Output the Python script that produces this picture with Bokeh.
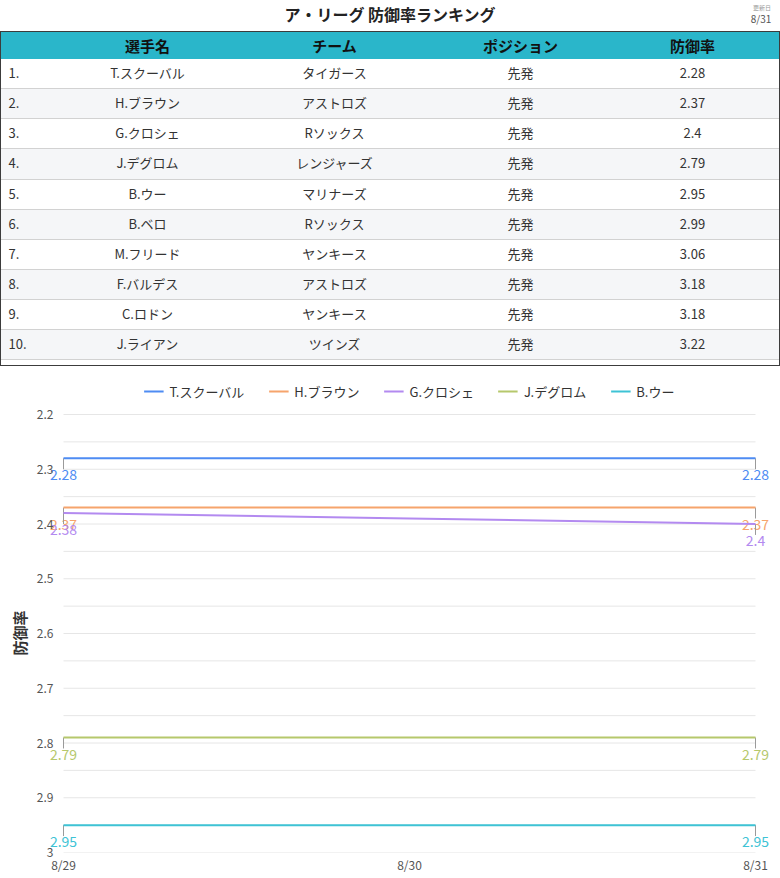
from bokeh.plotting import figure
from bokeh.models import (Range1d, FixedTicker, Legend, LegendItem, Div, Title,
                          GlobalInlineStyleSheet)
from bokeh.layouts import column
from bokeh.embed import file_html
from bokeh.resources import INLINE
from bokeh.core.properties import value

# ---------------- data ----------------
TITLE = "ア・リーグ 防御率ランキング"
UPDATED_LABEL = "更新日"
UPDATED_DATE = "8/31"

HEADERS = ["選手名", "チーム", "ポジション", "防御率"]
RANKS = ["1.", "2.", "3.", "4.", "5.", "6.", "7.", "8.", "9.", "10."]
PLAYERS = ["T.スクーバル", "H.ブラウン", "G.クロシェ", "J.デグロム", "B.ウー",
           "B.ベロ", "M.フリード", "F.バルデス", "C.ロドン", "J.ライアン"]
TEAMS = ["タイガース", "アストロズ", "Rソックス", "レンジャーズ", "マリナーズ",
         "Rソックス", "ヤンキース", "アストロズ", "ヤンキース", "ツインズ"]
POSITIONS = ["先発", "先発", "先発", "先発", "先発", "先発", "先発", "先発", "先発", "先発"]
ERAS = ["2.28", "2.37", "2.4", "2.79", "2.95", "2.99", "3.06", "3.18", "3.18", "3.22"]

DATES = ["8/29", "8/30", "8/31"]
SERIES_NAMES = ["T.スクーバル", "H.ブラウン", "G.クロシェ", "J.デグロム", "B.ウー"]
SKUBAL = [2.28, 2.28, 2.28]
BROWN = [2.37, 2.37, 2.37]
CROCHET = [2.38, 2.39, 2.40]
DEGROM = [2.79, 2.79, 2.79]
WOO = [2.95, 2.95, 2.95]
SERIES_VALUES = [SKUBAL, BROWN, CROCHET, DEGROM, WOO]

Y_AXIS_TITLE = "防御率"
Y_TICKS = [2.2, 2.3, 2.4, 2.5, 2.6, 2.7, 2.8, 2.9, 3.0]
Y_TICK_LABELS = ["2.2", "2.3", "2.4", "2.5", "2.6", "2.7", "2.8", "2.9", "3"]
Y_MINOR = [2.25, 2.35, 2.45, 2.55, 2.65, 2.75, 2.85, 2.95]

# ---------------- styles ----------------
FONT = "Noto Sans CJK JP"
COLORS = ["#4e8cf3", "#f6a46c", "#b38af0", "#b6c86c", "#3ec3d5"]
HEADER_BG = "#2ab6ca"
ALT_BG = "#f5f6f8"
SEP_COLOR = "#d2d2d2"
BORDER_COLOR = "#3c3c3c"
GRID_COLOR = "#e6e6e6"

W = 780
TOP_H = 372
CHART_H = 506

# ---------------- title + table (HTML) ----------------
T_TOP = 31
T_H = 335
HEADER_H = 27
ROW_H = 30.15
BW = 1.5
COL_X = [148, 335, 521, 693]
RANK_X = 9


def cell(cx, txt, style=""):
    return (f'<span style="position:absolute;left:{cx - BW - 100}px;width:200px;'
            f'text-align:center;{style}">{txt}</span>')


parts = []
parts.append(f'<div style="position:relative;width:{W}px;height:{TOP_H}px;'
             f'font-family:\'{FONT}\';background:white;overflow:hidden;">')
parts.append(f'<div style="position:absolute;left:0;top:2px;width:{W}px;text-align:center;'
             f'font-size:16px;font-weight:bold;color:#222;line-height:24px;">{TITLE}</div>')
parts.append(f'<div style="position:absolute;left:742px;top:4px;width:40px;text-align:center;'
             f'font-size:6px;color:#999;line-height:7px;">{UPDATED_LABEL}</div>')
parts.append(f'<div style="position:absolute;left:741px;top:12px;width:40px;text-align:center;'
             f'font-size:10px;color:#555;line-height:13px;">{UPDATED_DATE}</div>')
parts.append(f'<div style="position:absolute;left:0;top:{T_TOP}px;width:{W}px;height:{T_H}px;'
             f'box-sizing:border-box;border:{BW}px solid {BORDER_COLOR};overflow:hidden;'
             f'background:white;">')
parts.append(f'<div style="position:absolute;left:0;top:0;width:100%;height:{HEADER_H}px;'
             f'background:{HEADER_BG};line-height:{HEADER_H}px;font-size:15px;'
             f'font-weight:bold;color:#111;">')
for cx, h in zip(COL_X, HEADERS):
    parts.append(cell(cx, h))
parts.append('</div>')
for i, (rk, pl, tm, ps, er) in enumerate(zip(RANKS, PLAYERS, TEAMS, POSITIONS, ERAS)):
    bg = "white" if i % 2 == 0 else ALT_BG
    top = HEADER_H + i * ROW_H
    parts.append(f'<div style="position:absolute;left:0;top:{top:.2f}px;width:100%;'
                 f'height:{ROW_H}px;box-sizing:border-box;background:{bg};'
                 f'border-bottom:1.6px solid {SEP_COLOR};line-height:{ROW_H - 1.6:.2f}px;'
                 f'font-size:13px;color:#333;">')
    parts.append(f'<span style="position:absolute;left:{RANK_X - BW}px;">{rk}</span>')
    for cx, t in zip(COL_X, [pl, tm, ps, er]):
        parts.append(cell(cx, t))
    parts.append('</div>')
parts.append('</div></div>')

table_div = Div(text="".join(parts), width=W, height=TOP_H, margin=0)

# ---------------- chart ----------------
DATA_L, DATA_R = 63, 755
DATA_T, DATA_B = 414 - TOP_H, 852 - TOP_H
OVERHANG = 14           # frame extends past the data area so end labels are not clipped
LEGEND_SPACE = 34       # frame extends above the data area to hold the legend
FRAME_L, FRAME_R = DATA_L - OVERHANG, DATA_R + OVERHANG
FRAME_T = DATA_T - LEGEND_SPACE

xs = list(range(len(DATES)))
x_span = xs[-1] - xs[0]
x_pad = OVERHANG * x_span / (DATA_R - DATA_L)
y_per_px = (Y_TICKS[-1] - Y_TICKS[0]) / (DATA_B - DATA_T)
y_top = Y_TICKS[0] - LEGEND_SPACE * y_per_px

cf = figure(width=W, height=CHART_H,
            x_range=Range1d(xs[0] - x_pad, xs[-1] + x_pad),
            y_range=Range1d(Y_TICKS[-1], y_top), title=None,
            output_backend="svg", toolbar_location=None,
            min_border_left=FRAME_L, min_border_right=W - FRAME_R,
            min_border_top=FRAME_T, min_border_bottom=CHART_H - DATA_B)
cf.outline_line_color = None
cf.xgrid.visible = False
cf.ygrid.visible = False

grid_y = sorted(Y_TICKS + Y_MINOR)
cf.segment(x0=[xs[0]] * len(grid_y), x1=[xs[-1]] * len(grid_y), y0=grid_y, y1=grid_y,
           line_color=GRID_COLOR, line_width=1)

cf.yaxis.ticker = FixedTicker(ticks=Y_TICKS, minor_ticks=[])
cf.yaxis.major_label_overrides = {t: l for t, l in zip(Y_TICKS, Y_TICK_LABELS)}
cf.xaxis.ticker = FixedTicker(ticks=xs, minor_ticks=[])
cf.xaxis.major_label_overrides = {i: d for i, d in zip(xs, DATES)}
for ax in (cf.xaxis, cf.yaxis):
    ax.axis_line_color = None
    ax.major_tick_line_color = None
    ax.minor_tick_line_color = None
    ax.major_tick_out = 0
    ax.major_tick_in = 0
    ax.minor_tick_out = 0
    ax.minor_tick_in = 0
    ax.major_label_text_font = FONT
    ax.major_label_text_font_size = "12px"
    ax.major_label_text_color = "#555555"
cf.yaxis.major_label_standoff = 10 - OVERHANG
cf.xaxis.major_label_standoff = 3

# y axis title, centred on the data area (not on the taller frame)
y_title = Title(text=Y_AXIS_TITLE, align="left", offset=197, standoff=8,
                text_font=FONT, text_font_size="15px", text_font_style="bold",
                text_color="#333333")
cf.add_layout(y_title, "left")

DROP = 0.02
items = []
for name, vals, color in zip(SERIES_NAMES, SERIES_VALUES, COLORS):
    ends_x = [xs[0], xs[-1]]
    ends_y = [vals[0], vals[-1]]
    cf.segment(x0=ends_x, x1=ends_x, y0=ends_y, y1=[v + DROP for v in ends_y],
               line_color="#9a9a9a", line_width=1)
    r = cf.line(xs, vals, line_color=color, line_width=2)
    cf.text(x=ends_x, y=ends_y, text=[f"{v:g}" for v in ends_y], text_align="center",
            text_baseline="top", y_offset=11, text_font=value(FONT), text_font_size="14px",
            text_color=color)
    items.append(LegendItem(label=name, renderers=[r]))

legend = Legend(items=items, orientation="horizontal", location="top_center",
                label_text_font=FONT, label_text_font_size="13px", label_text_color="#333333",
                glyph_width=20, glyph_height=20, label_height=20, label_standoff=6,
                spacing=24, padding=0, margin=1, border_line_color=None,
                background_fill_alpha=0)
cf.add_layout(legend)

layout = column(table_div, cf, spacing=0,
                stylesheets=[GlobalInlineStyleSheet(css="body{margin:0 !important;}")])

open("out.html", "w").write(file_html(layout, INLINE))
